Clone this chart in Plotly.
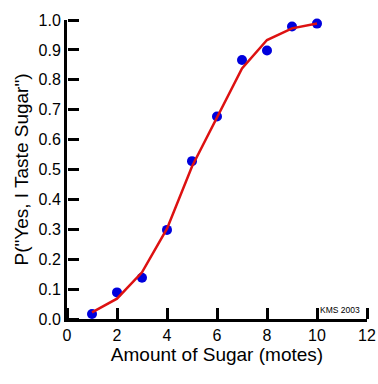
import plotly.graph_objects as go

sugar = [1, 2, 3, 4, 5, 6, 7, 8, 9, 10]
p_yes = [0.017, 0.089, 0.138, 0.298, 0.528, 0.677, 0.866, 0.898, 0.978, 0.988]
p_fit = [0.022, 0.068, 0.156, 0.302, 0.510, 0.676, 0.838, 0.933, 0.972, 0.988]

x_ticks = [0, 2, 4, 6, 8, 10, 12]
y_ticks = [0.0, 0.1, 0.2, 0.3, 0.4, 0.5, 0.6, 0.7, 0.8, 0.9, 1.0]
x_range = [0, 12]
y_range = [0, 1.0]

font = "Arial, Liberation Sans, sans-serif"

fig = go.Figure()
fig.add_trace(go.Scatter(x=sugar, y=p_yes, mode="markers",
                         marker=dict(color="#0000DD", size=10), showlegend=False,
                         cliponaxis=False))
fig.add_trace(go.Scatter(x=sugar, y=p_fit, mode="lines",
                         line=dict(color="#DD1111", width=2.5), showlegend=False,
                         cliponaxis=False))
# invisible helper trace that carries the inward-pointing tick axes
fig.add_trace(go.Scatter(x=sugar, y=p_yes, xaxis="x2", yaxis="y2", mode="markers",
                         marker=dict(opacity=0), hoverinfo="skip", showlegend=False))

fig.add_annotation(text="KMS 2003", x=11.8, y=0.008, xref="x", yref="y",
                   xanchor="right", yanchor="bottom", showarrow=False,
                   font=dict(family=font, size=8.5, color="black"))

main_axis = dict(showgrid=False, zeroline=False, showline=True, linecolor="black",
                 linewidth=3, ticks="", automargin=False,
                 tickfont=dict(family=font, size=16, color="black"))
tick_axis = dict(showgrid=False, zeroline=False, showline=False, ticks="outside",
                 ticklen=11, tickwidth=2.5, tickcolor="black", showticklabels=False,
                 anchor="free", position=0, automargin=False)

fig.update_layout(
    width=378, height=384,
    margin=dict(l=67, r=11, t=20, b=65, autoexpand=False),
    paper_bgcolor="white", plot_bgcolor="white",
    font=dict(family=font, size=16, color="black"),
    xaxis=dict(range=x_range, tickvals=x_ticks, ticktext=[str(v) for v in x_ticks],
               title=dict(text="Amount of Sugar (motes)", standoff=4), **main_axis),
    yaxis=dict(range=y_range, tickvals=y_ticks, ticktext=[f"{v:.1f}" for v in y_ticks],
               title=dict(text='P("Yes, I Taste Sugar")', standoff=5), **main_axis),
    xaxis2=dict(range=x_range, tickvals=x_ticks, overlaying="x", side="top", **tick_axis),
    yaxis2=dict(range=y_range, tickvals=y_ticks, overlaying="y", side="right", **tick_axis),
)

fig.write_html("out.html",
               config={"displayModeBar": False},
               post_script="document.body.style.margin='0px';"
                           "document.body.style.overflow='hidden';")
